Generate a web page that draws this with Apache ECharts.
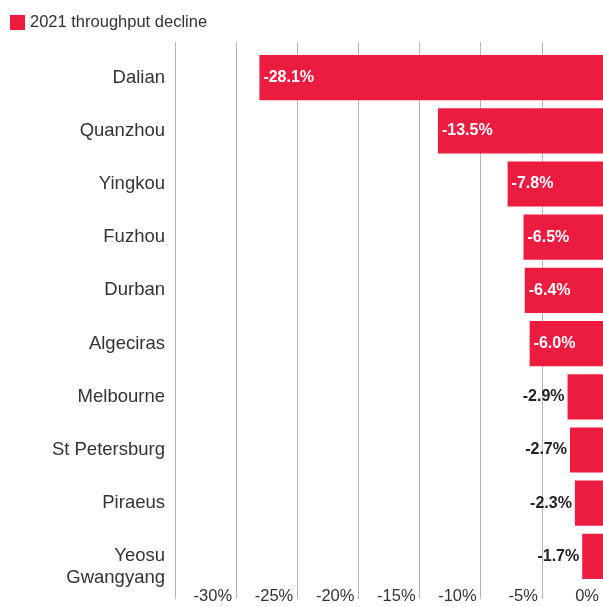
<!DOCTYPE html>
<html>
<head>
<meta charset="utf-8">
<script src="https://cdn.jsdelivr.net/npm/echarts@6/dist/echarts.min.js"></script>
<style>
  html, body { margin: 0; padding: 0; background: #fff; }
  #chart { width: 603px; height: 607px; }
</style>
</head>
<body>
<div id="chart"></div>
<script>
// ports, top to bottom
var ports = ['Dalian', 'Quanzhou', 'Yingkou', 'Fuzhou', 'Durban', 'Algeciras',
    'Melbourne', 'St Petersburg', 'Piraeus', 'Yeosu\nGwangyang'];
// 2021 throughput change, %
var decline = [-28.1, -13.5, -7.8, -6.5, -6.4, -6.0, -2.9, -2.7, -2.3, -1.7];
var seriesName = '2021 throughput decline';

var red = '#ec1c40';
var font = 'Liberation Sans, Arial, sans-serif';

var chart = echarts.init(document.getElementById('chart'));

var barData = decline.map(function (v) {
    var inside = v <= -5;
    return {
        value: v,
        label: {
            position: inside ? 'insideLeft' : 'left',
            distance: inside ? 4 : 3,
            color: inside ? '#fff' : '#222'
        }
    };
});

var option = {
    animation: false,
    textStyle: { fontFamily: font },
    legend: {
        left: 5,
        top: 9,
        icon: 'rect',
        itemWidth: 15,
        itemHeight: 15,
        itemGap: 6,
        textStyle: { fontSize: 16.5, color: '#333', fontFamily: font },
        data: [seriesName]
    },
    grid: { left: 175, right: 0, top: 51, bottom: 24, containLabel: false },
    xAxis: [{
        type: 'value',
        min: -35,
        max: 0,
        interval: 5,
        axisLine: { show: false },
        axisTick: { show: true, length: 16, lineStyle: { color: '#b5b5b5' } },
        splitLine: { lineStyle: { color: '#b5b5b5', width: 1 } },
        axisLabel: {
            fontSize: 16.5,
            color: '#333',
            align: 'right',
            margin: 5,
            padding: [0, 4, 0, 0],
            formatter: function (v) { return v === -35 ? '' : v + '%'; }
        }
    }, {
        type: 'value',
        position: 'top',
        min: -35,
        max: 0,
        interval: 5,
        axisLine: { show: false },
        axisTick: { show: true, length: 9, lineStyle: { color: '#b5b5b5' } },
        splitLine: { show: false },
        axisLabel: { show: false }
    }],
    yAxis: {
        type: 'category',
        inverse: true,
        data: ports,
        axisLine: { show: false },
        axisTick: { show: false },
        axisLabel: {
            fontSize: 18.5,
            color: '#333',
            margin: 10,
            lineHeight: 22,
            formatter: function (v) {
                // two-line names start level with the bar
                return v.indexOf('\n') >= 0 ? '\n' + v : v;
            }
        }
    },
    series: [{
        name: seriesName,
        type: 'bar',
        xAxisIndex: 0,
        barCategoryGap: '15%',
        itemStyle: { color: red },
        label: {
            show: true,
            fontSize: 16,
            fontWeight: 'bold',
            formatter: function (p) { return p.value.toFixed(1) + '%'; }
        },
        data: barData
    }]
};

chart.setOption(option);
</script>
</body>
</html>
